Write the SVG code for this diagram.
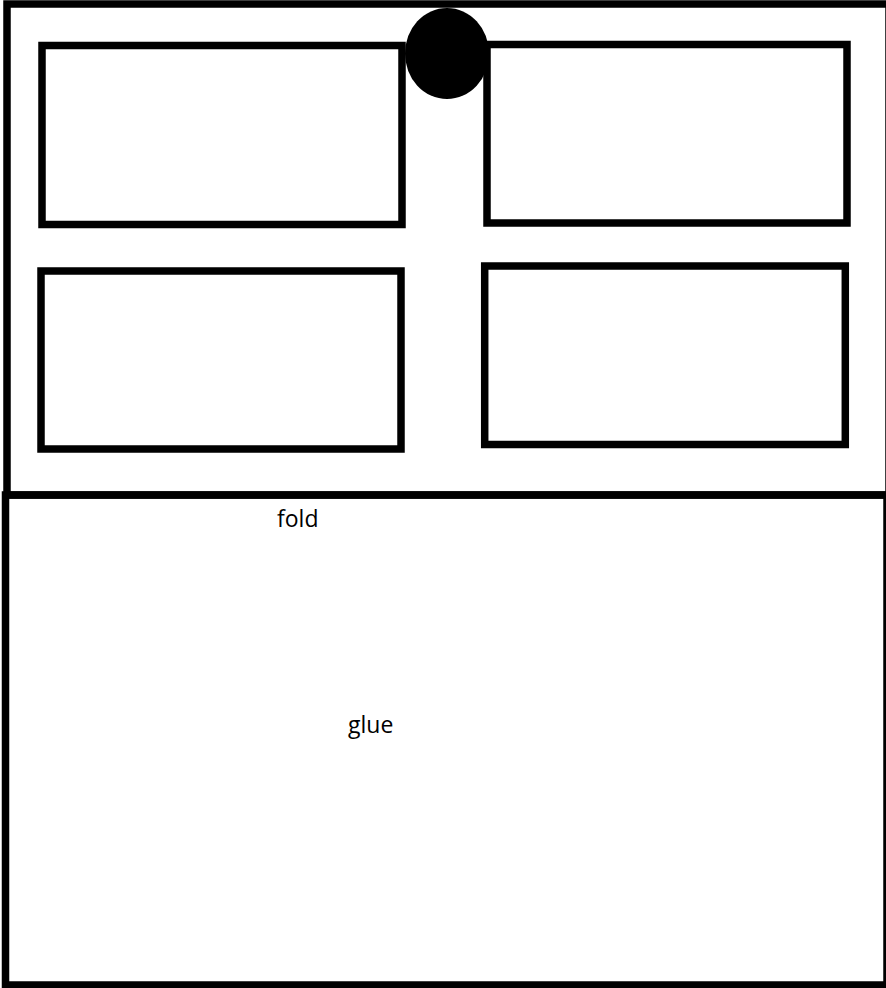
<svg xmlns="http://www.w3.org/2000/svg" width="886" height="988" viewBox="0 0 886 988">
<style>
.box{fill:none;stroke:#000;stroke-width:7.5}
.lbl{font-family:"Open Sans","Liberation Sans",sans-serif;font-size:23px;fill:#000}
</style>
<rect x="0" y="0" width="886" height="988" fill="#fff"/>
<g id="top-panel"><rect class="box" x="7" y="4" width="882" height="491"/></g>
<g id="bottom-panel"><rect class="box" x="5.5" y="495" width="881.5" height="490"/></g>
<g id="box-top-left"><rect class="box" x="42" y="45.5" width="360" height="179"/></g>
<g id="box-top-right"><rect class="box" x="487" y="44.5" width="360" height="178.5"/></g>
<g id="box-bottom-left"><rect class="box" x="41" y="271" width="360" height="178"/></g>
<g id="box-bottom-right"><rect class="box" x="484.7" y="266" width="360.6" height="178.5"/></g>
<g id="hole"><ellipse cx="447" cy="53.5" rx="42" ry="45.5" fill="#000"/></g>
<g id="fold-label"><text class="lbl" x="277" y="527">fold</text></g>
<g id="glue-label"><text class="lbl" x="348" y="733">glue</text></g>
<g id="connectors"></g>
</svg>
